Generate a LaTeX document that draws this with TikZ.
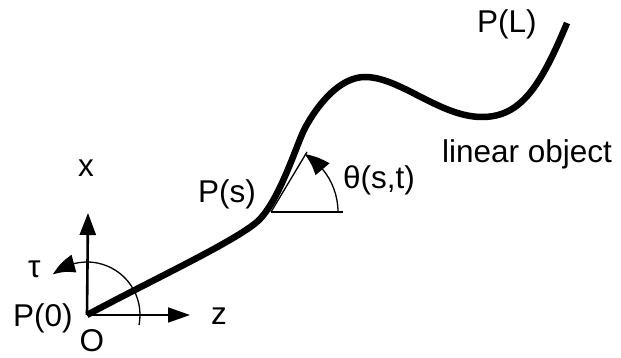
\documentclass[tikz,border=0pt]{standalone}
\usepackage{fontspec}
\setmainfont{Liberation Sans}
\usetikzlibrary{arrows.meta,bending}
\begin{document}
\begin{tikzpicture}[x=1pt,y=1pt,
  lbl/.style={inner sep=0pt, font=\fontsize{31.5}{36}\selectfont},
  axisx/.style={line width=2.6pt, -{Triangle[length=22pt,width=16pt]}},
  axisz/.style={line width=1.8pt, -{Triangle[length=22pt,width=15pt]}},
  thin/.style={line width=1.3pt},
  anglearc/.style={line width=1.3pt, -{Triangle[length=24pt,width=18pt,bend]}},
  rod/.style={line width=6.5pt}
]
\useasboundingbox (0,0) rectangle (621,358);
\coordinate (O) at (87,43);
\coordinate (xt) at (88,145);
\coordinate (zt) at (190,43);
\coordinate (Ps) at (271,146);
\coordinate (tg) at (307,206);
\coordinate (hz) at (343,146);
\coordinate (A) at (258,137);
\coordinate (B) at (305,230);
\coordinate (peak) at (365,281);
\coordinate (trough) at (482,241);
\coordinate (PL) at (567,335);
% axes
\draw[axisx] (O) -- (xt);
\draw[axisz] (O) -- (zt);
% tau arc
\draw[anglearc] ([shift={(-11:53)}]O) arc[start angle=-11, end angle=130, radius=53];
% tangent and horizontal at P(s)
\draw[thin] (Ps) -- (hz);
\draw[thin] (Ps) -- (tg);
\draw[anglearc] ([shift={(0:67)}]Ps) arc[start angle=0, end angle=60, radius=67];
% linear object
\draw[rod] (O) .. controls (150,77) and (236,117) .. (A)
  .. controls (280,158) and (297,215) .. (B)
  .. controls (318,254) and (340,281) .. (peak)
  .. controls (400,281) and (440,241) .. (trough)
  .. controls (520,241) and (540,270) .. (PL);
% labels
\node[lbl, anchor=base] (lx) at (86,181) {x};
\node[lbl, anchor=base] (lz) at (219,33) {z};
\node[lbl, anchor=base] (lO) at (92,6) {O};
\node[lbl, anchor=base west] (lP0) at (13,31) {P(0)};
\node[lbl, anchor=base west] (ltau) at (28,80) {τ};
\node[lbl, anchor=base west] (lPs) at (198,155) {P(s)};
\node[lbl, anchor=base west] (lth) at (343,169) {θ(s,t)};
\node[lbl, anchor=base west] (lPL) at (477,325) {P(L)};
\node[lbl, anchor=base west] (lobj) at (442,195) {linear object};
\end{tikzpicture}
\end{document}
